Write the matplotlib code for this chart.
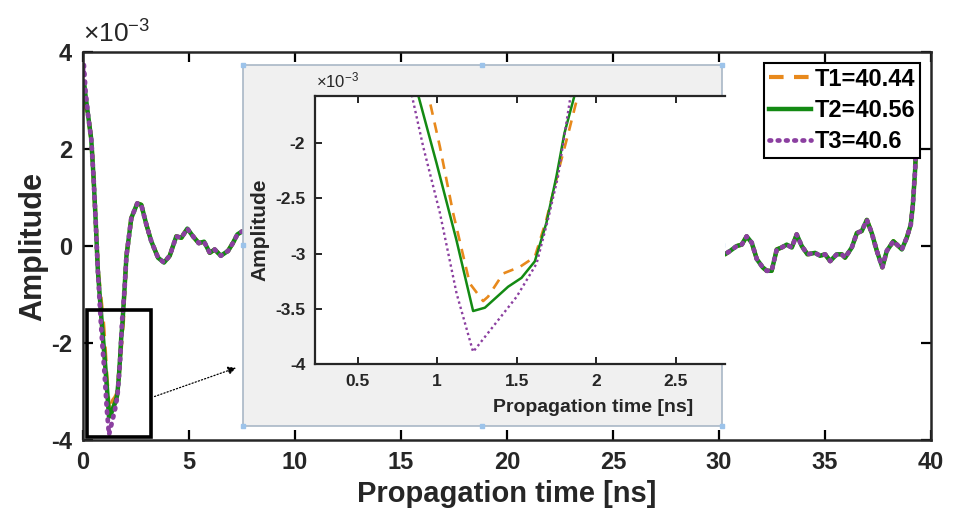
import matplotlib
matplotlib.use("Agg")
import matplotlib.pyplot as plt
from matplotlib.patches import Rectangle
from matplotlib.lines import Line2D
from matplotlib.ticker import FormatStrFormatter

plt.rcParams['font.family'] = ['Liberation Sans', 'DejaVu Sans']
plt.rcParams['axes.unicode_minus'] = False
plt.rcParams['mathtext.fontset'] = 'custom'
plt.rcParams['mathtext.rm'] = 'Liberation Sans'

# amplitudes are in units of 1e-3
labels = ['T1=40.44', 'T2=40.56', 'T3=40.6']

# start of each trace (they differ right at t=0)
t_start_T1 = [0.0, 0.08]
a_start_T1 = [2.85, 2.95]
t_start_T2 = [0.0, 0.05, 0.12]
a_start_T2 = [3.30, 3.37, 3.10]
t_start_T3 = [0.0, 0.04, 0.12]
a_start_T3 = [3.60, 3.75, 3.20]

# shared descent
t_desc = [0.24, 0.39, 0.5, 0.6, 0.7]
a_desc = [2.70, 2.20, 1.40, 0.50, -0.50]

# minimum region
t_dip_T1 = [0.944, 1.017, 1.10, 1.205, 1.289, 1.32, 1.415, 1.52, 1.614, 1.687, 1.77, 1.83, 1.886]
a_dip_T1 = [-1.56, -2.03, -2.63, -3.27, -3.43, -3.39, -3.18, -3.12, -3.03, -2.69, -2.21, -1.88, -1.56]
t_dip_T2 = [0.88, 0.996, 1.12, 1.226, 1.30, 1.446, 1.53, 1.614, 1.687, 1.75, 1.80, 1.865]
a_dip_T2 = [-1.56, -2.18, -2.87, -3.52, -3.49, -3.30, -3.22, -3.07, -2.72, -2.30, -1.91, -1.56]
t_dip_T3 = [0.84, 0.912, 1.017, 1.122, 1.226, 1.352, 1.50, 1.625, 1.697, 1.76, 1.84]
a_dip_T3 = [-1.56, -2.03, -2.63, -3.36, -3.89, -3.66, -3.39, -3.09, -2.69, -2.30, -1.56]

# shared tail
t_tail = [1.95, 2.05, 2.28, 2.56, 2.75, 2.99, 3.22, 3.54, 3.82, 4.09, 4.4, 4.64, 4.92,
          5.19, 5.46, 5.71, 5.98, 6.21, 6.5, 6.84, 7.08, 7.28, 7.5,
          30.28, 30.52, 30.83, 31.07, 31.3, 31.54, 31.78, 32.06, 32.25, 32.48, 32.72,
          32.95, 33.19, 33.43, 33.66, 33.9, 34.17, 34.53, 34.76, 35.0, 35.24, 35.55,
          35.79, 35.94, 36.26, 36.5, 36.73, 36.97, 37.2, 37.44, 37.7, 37.91, 38.22,
          38.46, 38.62, 38.85, 39.04, 39.14, 39.25, 39.32]
a_tail = [-0.95, -0.20, 0.58, 0.88, 0.85, 0.44, 0.10, -0.24, -0.34, -0.20, 0.20, 0.17, 0.36,
          0.20, 0.06, 0.09, -0.14, -0.07, -0.20, -0.10, 0.07, 0.24, 0.30,
          -0.17, -0.10, 0.00, 0.03, 0.20, 0.07, -0.27, -0.44, -0.51, -0.51, -0.07,
          -0.03, 0.03, -0.03, 0.24, 0.00, -0.17, -0.14, -0.20, -0.17, -0.31, -0.17,
          -0.17, -0.24, -0.03, 0.27, 0.31, 0.54, 0.27, -0.10, -0.44, -0.10, 0.10,
          0.00, -0.07, 0.17, 0.44, 0.85, 1.60, 2.40]

t1 = t_start_T1 + t_desc + t_dip_T1 + t_tail
a1 = a_start_T1 + a_desc + a_dip_T1 + a_tail
t2 = t_start_T2 + t_desc + t_dip_T2 + t_tail
a2 = a_start_T2 + a_desc + a_dip_T2 + a_tail
t3 = t_start_T3 + t_desc + t_dip_T3 + t_tail
a3 = a_start_T3 + a_desc + a_dip_T3 + a_tail

c_orange = '#E8891C'
c_green = '#138A13'
c_purple = '#8B3FA0'
txt = '#262626'

fig = plt.figure(figsize=(9.54, 5.29), dpi=100)
ax = fig.add_axes([0.087, 0.168, 0.889, 0.7337])

ax.plot(t1, a1, color=c_orange, lw=3.0, dashes=(3.5, 2.5), label=labels[0])
ax.plot(t2, a2, color=c_green, lw=3.2, label=labels[1])
ax.plot(t3, a3, color=c_purple, lw=3.4, dashes=(0.35, 1.4), dash_capstyle='round',
        label=labels[2])

ax.set_xlim(0, 40)
ax.set_ylim(-4, 4)
ax.set_xticks([0, 5, 10, 15, 20, 25, 30, 35, 40])
ax.set_yticks([-4, -2, 0, 2, 4])
ax.tick_params(direction='in', length=7, width=1.6, top=True, right=True,
               labelsize=17, labelcolor=txt, pad=8)
for lab in ax.get_xticklabels() + ax.get_yticklabels():
    lab.set_fontweight('bold')
for s in ax.spines.values():
    s.set_linewidth(1.8)
    s.set_color(txt)
ax.set_xlabel('Propagation time [ns]', fontsize=21, fontweight='bold', color=txt, labelpad=4)
ax.set_ylabel('Amplitude', fontsize=22, fontweight='bold', color=txt, labelpad=2)
fig.text(0.087, 0.91, r'$\mathregular{\times10^{-3}}$', fontsize=19, color=txt, ha='left', va='bottom')

# zoom box and arrow
ax.add_patch(Rectangle((0.2, -3.93), 3.0, 2.62, fill=False, ec='k', lw=2.6, zorder=5))
ax.annotate('', xy=(7.35, -2.49), xytext=(3.25, -3.12),
            arrowprops=dict(arrowstyle='-|>', ls=':', lw=0.9, color='k', mutation_scale=12))

leg = ax.legend(loc='upper right', bbox_to_anchor=(0.987, 0.972), borderaxespad=0,
                fancybox=False, edgecolor='k', framealpha=1, handlelength=1.8,
                handletextpad=0.15, labelspacing=0.35, borderpad=0.2,
                prop={'weight': 'bold', 'size': 17})
leg.get_frame().set_linewidth(1.5)

# grey panel that holds the inset
px0, py0, pw, ph = 0.2547, 0.1947, 0.502, 0.6825
panel = Rectangle((px0, py0), pw, ph, transform=fig.transFigure,
                  facecolor='#f0f0f0', edgecolor='#a9b7c6', lw=1.2, zorder=3)
fig.add_artist(panel)
hx = [px0, px0 + pw / 2, px0 + pw, px0, px0 + pw, px0, px0 + pw / 2, px0 + pw]
hy = [py0, py0, py0, py0 + ph / 2, py0 + ph / 2, py0 + ph, py0 + ph, py0 + ph]
fig.add_artist(Line2D(hx, hy, transform=fig.transFigure, ls='none', marker='s',
                      ms=2.5, mfc='#9cc3ea', mec='#9cc3ea', zorder=3.5))

ins = fig.add_axes([0.3302, 0.3119, 0.4298, 0.5066], zorder=4)
ins.plot(t1, a1, color=c_orange, lw=1.9, dashes=(4, 3))
ins.plot(t2, a2, color=c_green, lw=1.8)
ins.plot(t3, a3, color=c_purple, lw=1.7, dashes=(1, 1.3))
ins.set_xlim(0.232, 2.81)
ins.set_ylim(-4, -1.572)
ins.set_xticks([0.5, 1, 1.5, 2, 2.5])
ins.set_yticks([-4, -3.5, -3, -2.5, -2])
ins.xaxis.set_major_formatter(FormatStrFormatter('%g'))
ins.yaxis.set_major_formatter(FormatStrFormatter('%g'))
ins.tick_params(direction='in', length=5, width=1.2, top=True, right=False,
                labelsize=12.5, labelcolor=txt, pad=7)
for lab in ins.get_xticklabels() + ins.get_yticklabels():
    lab.set_fontweight('bold')
ins.spines['right'].set_visible(False)
for k in ['left', 'top', 'bottom']:
    ins.spines[k].set_linewidth(1.6)
    ins.spines[k].set_color(txt)
ins.set_xlabel('Propagation time [ns]', fontsize=14, fontweight='bold', color=txt)
ins.xaxis.set_label_coords(0.678, -0.13)
ins.set_ylabel('Amplitude', fontsize=15, fontweight='bold', color=txt, labelpad=4)
fig.text(0.331, 0.83, r'$\mathregular{\times10^{-3}}$', fontsize=12, color=txt, ha='left', va='bottom')

fig.savefig('out.png', dpi=100)
